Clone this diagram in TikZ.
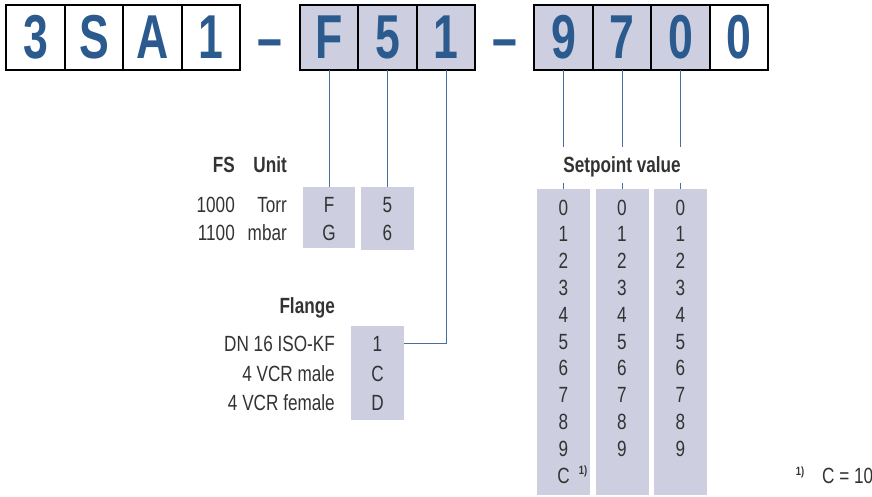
\documentclass[tikz,border=0pt]{standalone}
\usepackage{fontspec}
\setmainfont{Liberation Sans}[FakeStretch=0.78]
\newfontfamily\bigfont{Liberation Sans}[FakeStretch=0.72]
\usetikzlibrary{positioning}
\definecolor{codeblue}{HTML}{2B5A8E}
\definecolor{boxfill}{HTML}{CDCFE1}
\definecolor{linkblue}{HTML}{4670A0}
\definecolor{textgray}{HTML}{333333}
\tikzset{
	digit/.style={draw=black, line width=1.6pt, outer sep=0pt, inner sep=0pt, minimum width=58.5pt, minimum height=65pt, text=codeblue, font=\bigfont\fontsize{62}{62}\selectfont\bfseries},
	coded/.style={digit, fill=boxfill},
	hyphen/.style={inner sep=0pt, anchor=base, text=codeblue, font=\bigfont\fontsize{62}{62}\selectfont\bfseries},
	valbox/.style={fill=boxfill, inner sep=0pt, outer sep=0pt},
	val/.style={inner sep=0pt, anchor=base, text=textgray, font=\fontsize{22}{26}\selectfont},
	head/.style={val, font=\fontsize{22}{26}\selectfont\bfseries},
	note/.style={inner sep=0pt, anchor=base, text=textgray, font=\fontsize{12}{14}\selectfont\bfseries},
	link/.style={draw=linkblue, line width=1pt},
}
\begin{document}
\begin{tikzpicture}[x=1pt, y=-1pt]
	\useasboundingbox (0,0) rectangle (872,497);

	\node (d3) [digit] at (35.5,37.5) {3};
	\node (dS) [digit, right=0pt of d3] {S};
	\node (dA) [digit, right=0pt of dS] {A};
	\node (d1) [digit, right=0pt of dA] {1};
	\node (dash1) [hyphen] at (270,59.7) {–};
	\node (dF) [coded] at (329,37.5) {F};
	\node (d5) [coded, right=0pt of dF] {5};
	\node (d1b) [coded, right=0pt of d5] {1};
	\node (dash2) [hyphen] at (504.5,59.7) {–};
	\node (d9) [coded] at (563.5,37.5) {9};
	\node (d7) [coded, right=0pt of d9] {7};
	\node (d0) [coded, right=0pt of d7] {0};
	\node (d0b) [digit, right=0pt of d0] {0};

	% FS / unit
	\node (fsHead) [head, anchor=base east] at (235,172) {FS};
	\node (unitHead) [head, anchor=base east] at (287,172) {Unit};
	\node (fs1) [val, anchor=base east] at (235,212.5) {1000};
	\node (unit1) [val, anchor=base east] at (287,212.5) {Torr};
	\node (fs2) [val, anchor=base east] at (235,240.5) {1100};
	\node (unit2) [val, anchor=base east] at (287,240.5) {mbar};
	\node (fsF) [valbox, minimum width=52pt, minimum height=61pt] at (dF |- 0,217.5) {};
	\node (fs5) [valbox, minimum width=53pt, minimum height=63pt] at (d5 |- 0,218.5) {};
	\node (fsF1) [val] at (dF |- 0,212.5) {F};
	\node (fsF2) [val] at (dF |- 0,240.5) {G};
	\node (fs51) [val] at (d5 |- 0,212.5) {5};
	\node (fs52) [val] at (d5 |- 0,240.5) {6};
	\draw [link] (dF.south) -- (fsF.north);
	\draw [link] (d5.south) -- (fs5.north);

	% flange
	\node (flHead) [head, anchor=base east] at (335,313) {Flange};
	\node (flLab1) [val, anchor=base east] at (335,351) {DN 16 ISO-KF};
	\node (flLab2) [val, anchor=base east] at (335,381) {4 VCR male};
	\node (flLab3) [val, anchor=base east] at (335,410) {4 VCR female};
	\node (fl) [valbox, minimum width=53pt, minimum height=94pt] at (377.5,373) {};
	\node (fl1) [val] at (377.5,351) {1};
	\node (fl2) [val] at (377.5,381) {C};
	\node (fl3) [val] at (377.5,410) {D};
	\draw [link] (d1b.south) |- (fl.east |- 0,343);

	% setpoint
	\node (spHead) [head] at (622,172) {Setpoint value};
	\foreach \col/\top in {1/d9, 2/d7, 3/d0} {
		\node (sp\col) [valbox, minimum width=53pt, minimum height=306pt] at (\top |- 0,342) {};
		\draw [link] (\top.south) -- (\top.south |- 0,147);
		\draw [link] (\top.south |- 0,183) -- (sp\col.north);
		\foreach \k in {0,...,9}
			\node (sp\col-\k) [val] at (\top |- 0,215+26.8*\k) {\k};
	}
	\node (sp1-10) [val] at (d9 |- 0,483) {C};
	\node (spNote) [note] at (583,474) {1)};

	\node (footMark) [note] at (800,475) {1)};
	\node (footText) [val, anchor=base west] at (822,483) {C = 10};
\end{tikzpicture}
\end{document}
